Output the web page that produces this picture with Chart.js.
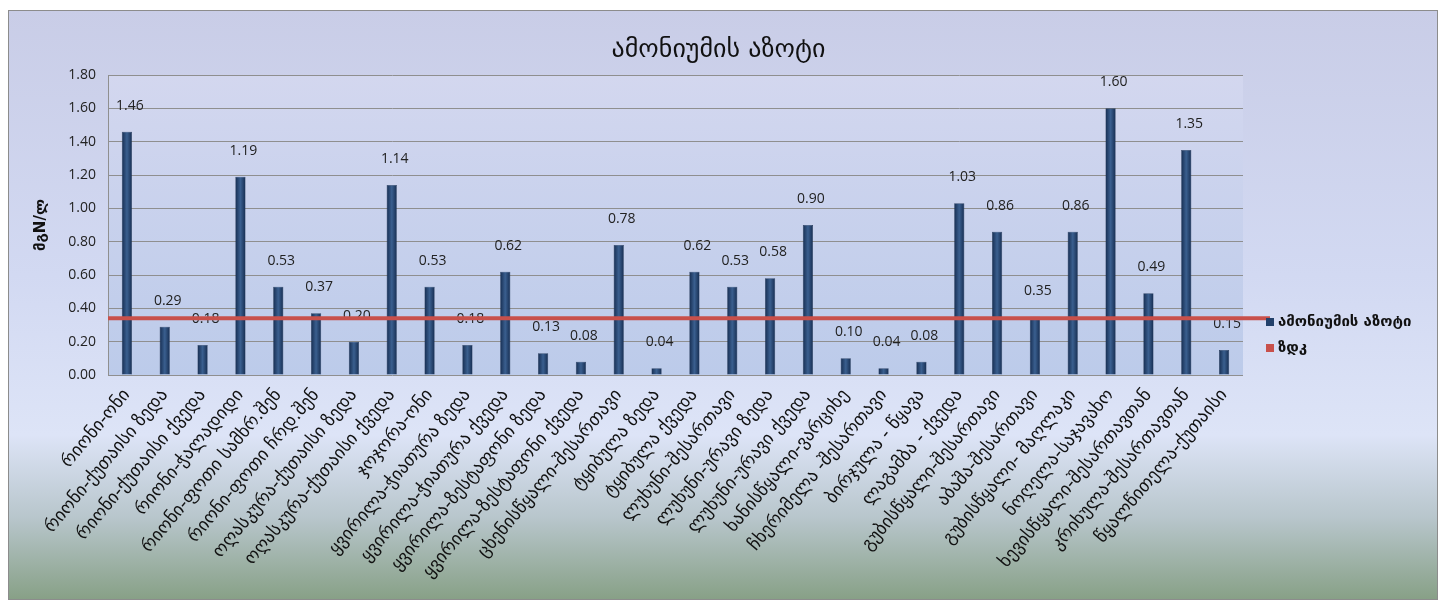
<!DOCTYPE html>
<html>
<head>
<meta charset="utf-8">
<script src="https://cdn.jsdelivr.net/npm/chart.js@4"></script>
<style>
  html, body { margin: 0; padding: 0; background: #ffffff; }
  #wrap { position: relative; width: 1445px; height: 606px; }
</style>
</head>
<body>
<div id="wrap"><canvas id="chart"></canvas></div>
<script>
// Sampling stations
const stations = [
  'რიონი-ონი',
  'რიონი-ქუთაისი ზედა',
  'რიონი-ქუთაისი ქვედა',
  'რიონი-ჭალადიდი',
  'რიონი-ფოთი სამხრ.შენ',
  'რიონი-ფოთი ჩრდ.შენ',
  'ოღასკურა-ქუთაისი ზედა',
  'ოღასკურა-ქუთაისი ქვედა',
  'ჯოჯორა-ონი',
  'ყვირილა-ჭიათურა ზედა',
  'ყვირილა-ჭიათურა ქვედა',
  'ყვირილა-ზესტაფონი ზედა',
  'ყვირილა-ზესტაფონი ქვედა',
  'ცხენისწყალი-შესართავი',
  'ტყიბულა ზედა',
  'ტყიბულა ქვედა',
  'ლუხუნი-შესართავი',
  'ლუხუნი-ურავი ზედა',
  'ლუხუნი-ურავი ქვედა',
  'ხანისწყალი-ვარციხე',
  'ჩხერიმელა -შესართავი',
  'ბირჯულა - წყავა',
  'ლაგამბა - ქვედა',
  'გუბისწყალი-შესართავი',
  'აბაშა-შესართავი',
  'გუბისწყალი- მაღლაკი',
  'ნოღელა-საჯავახო',
  'ხევისწყალი-შესართავთან',
  'კრიხულა-შესართავთან',
  'წყალწითელა-ქუთაისი'
];

// Ammonium nitrogen, mg N/l
const ammoniumN = [
  1.46, 0.29, 0.18, 1.19, 0.53, 0.37, 0.20, 1.14, 0.53, 0.18,
  0.62, 0.13, 0.08, 0.78, 0.04, 0.62, 0.53, 0.58, 0.90, 0.10,
  0.04, 0.08, 1.03, 0.86, 0.35, 0.86, 1.60, 0.49, 1.35, 0.15
];

// Maximum permissible concentration
const zdk = 0.34;

const yMin = 0;
const yMax = 1.8;
const yStep = 0.2;

const chartTitle = 'ამონიუმის აზოტი';
const yAxisTitle = 'მგN/ლ';
const seriesNames = ['ამონიუმის აზოტი', 'ზდკ'];
const seriesColors = ['#22406a', '#c8504b'];

const FONT = "'Open Sans', 'DejaVu Sans', sans-serif";
const GEO = "'DejaVu Sans', sans-serif";

// Background panel, plot area fill, title, axis title, value labels, legend
const framePlugin = {
  id: 'frame',
  beforeDraw(chart) {
    const { ctx, width, height, chartArea: a } = chart;
    ctx.save();
    ctx.fillStyle = '#ffffff';
    ctx.fillRect(0, 0, width, height);
    const x0 = 8, y0 = 10, x1 = width - 7, y1 = height - 6;
    const g = ctx.createLinearGradient(0, y0, 0, y1);
    g.addColorStop(0, '#c9cde7');
    g.addColorStop(0.45, '#d2d9f2');
    g.addColorStop(0.72, '#dde4f7');
    g.addColorStop(0.86, '#b8c6cc');
    g.addColorStop(1, '#87a086');
    ctx.fillStyle = g;
    ctx.fillRect(x0, y0, x1 - x0, y1 - y0);
    ctx.strokeStyle = '#8c8c8c';
    ctx.lineWidth = 1;
    ctx.strokeRect(x0 + 0.5, y0 + 0.5, x1 - x0 - 1, y1 - y0 - 1);

    const pg = ctx.createLinearGradient(0, a.top, 0, a.bottom);
    pg.addColorStop(0, '#d3d7ef');
    pg.addColorStop(1, '#bccbea');
    ctx.fillStyle = pg;
    ctx.fillRect(a.left, a.top, a.right - a.left, a.bottom - a.top);

    // title
    ctx.fillStyle = '#111';
    ctx.font = '26px ' + GEO;
    ctx.textAlign = 'center';
    ctx.textBaseline = 'middle';
    ctx.fillText(chartTitle, width / 2 - 4, 50);

    // y axis title
    ctx.save();
    ctx.translate(41, (a.top + a.bottom) / 2);
    ctx.rotate(-Math.PI / 2);
    ctx.font = 'bold 15px ' + GEO;
    ctx.fillText(yAxisTitle, 0, 0);
    ctx.restore();
    ctx.restore();
  },
  afterDatasetsDraw(chart) {
    const { ctx, chartArea: a, scales } = chart;
    ctx.save();
    // value labels
    const meta = chart.getDatasetMeta(0);
    ctx.fillStyle = '#222';
    ctx.font = '14px ' + FONT;
    ctx.textAlign = 'center';
    ctx.textBaseline = 'middle';
    meta.data.forEach((bar, i) => {
      ctx.fillText(ammoniumN[i].toFixed(2), bar.x + 3, bar.y - 26);
    });
    // permissible concentration line
    const y = scales.y.getPixelForValue(zdk);
    ctx.strokeStyle = seriesColors[1];
    ctx.lineWidth = 4;
    ctx.beginPath();
    ctx.moveTo(a.left, y);
    ctx.lineTo(a.right + 27, y);
    ctx.stroke();

    // legend
    const lx = a.right + 23;
    const items = [
      { text: seriesNames[0], color: seriesColors[0], y: 322 },
      { text: seriesNames[1], color: seriesColors[1], y: 348 }
    ];
    ctx.textAlign = 'left';
    ctx.font = 'bold 15px ' + GEO;
    items.forEach(it => {
      ctx.fillStyle = it.color;
      ctx.fillRect(lx, it.y - 4, 8, 8);
      ctx.fillStyle = '#111';
      ctx.fillText(it.text, lx + 12, it.y);
    });
    ctx.restore();
  }
};

const barFill = (c) => {
  const xs = c.chart.scales && c.chart.scales.x;
  if (!xs || !c.chart.chartArea) return seriesColors[0];
  const x = xs.getPixelForValue(c.dataIndex);
  const g = c.chart.ctx.createLinearGradient(x - 5, 0, x + 5, 0);
  g.addColorStop(0, '#172e52');
  g.addColorStop(0.5, '#3a5f8f');
  g.addColorStop(1, '#172e52');
  return g;
};

new Chart(document.getElementById('chart'), {
  type: 'bar',
  data: {
    labels: stations,
    datasets: [{
      label: seriesNames[0],
      data: ammoniumN,
      backgroundColor: barFill,
      borderColor: '#172b4a',
      borderWidth: 0.5,
      barPercentage: 0.27,
      categoryPercentage: 1.0
    }]
  },
  options: {
    responsive: true,
    maintainAspectRatio: false,
    animation: false,
    layout: { padding: { top: 75, right: 202, bottom: 0, left: 0 } },
    plugins: {
      legend: { display: false },
      title: { display: false },
      tooltip: { enabled: false }
    },
    scales: {
      x: {
        grid: { display: false },
        border: { display: false },
        ticks: {
          autoSkip: false,
          maxRotation: 50,
          minRotation: 50,
          color: '#111',
          font: { family: GEO, size: 18 },
          padding: 2
        },
        afterFit(scale) { scale.height = 231; }
      },
      y: {
        min: yMin,
        max: yMax,
        grid: { color: '#8f8f8f', lineWidth: 1, drawTicks: false },
        border: { display: true, color: '#8f8f8f' },
        ticks: {
          stepSize: yStep,
          color: '#222',
          font: { family: FONT, size: 14 },
          padding: 12,
          callback: v => Number(v).toFixed(2)
        },
        afterFit(scale) { scale.width = 108; }
      }
    }
  },
  plugins: [framePlugin]
});
</script>
</body>
</html>
